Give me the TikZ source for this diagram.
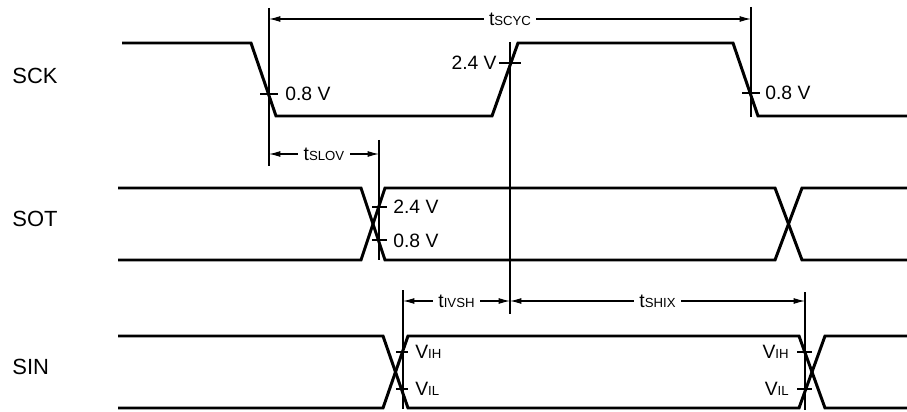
\documentclass[tikz,border=0pt]{standalone}
\usepackage{fontspec}
\setmainfont{Liberation Sans}
\usetikzlibrary{arrows.meta}
\newcommand{\tsub}[1]{{\fontsize{7.5}{8}\selectfont #1}}

\begin{document}
\begin{tikzpicture}[x=0.02cm,y=-0.02cm,
  wave/.style={line width=1.7pt,line join=miter},
  guide/.style={line width=0.6pt},
  dim/.style={line width=0.6pt,{Latex[length=6.5pt,width=3.4pt]}-{Latex[length=6.5pt,width=3.4pt]}},
  lbl/.style={inner sep=0pt,font=\fontsize{11}{12}\selectfont},
  tlbl/.style={fill=white,inner sep=3pt,font=\fontsize{11}{12}\selectfont},
  signame/.style={inner sep=0pt,anchor=west,font=\fontsize{12.5}{14}\selectfont}]
\useasboundingbox (0,0) rectangle (907,412);

% signal names
\node[signame] at (12,76) (sck){SCK};
\node[signame] at (12,219) (sot){SOT};
\node[signame] at (12,367) (sin){SIN};

% waveforms
\draw[wave] (122,43) -- (251,43) -- (276,116) -- (492,116) -- (518,43) -- (733,43) -- (758,116) -- (907,116);
\draw[wave] (118,188) -- (361,188) -- (385,260) -- (775,260) -- (802,188) -- (907,188);
\draw[wave] (118,260) -- (361,260) -- (385,188) -- (775,188) -- (802,260) -- (907,260);
\draw[wave] (118,336) -- (383,336) -- (408,408) -- (799,408) -- (825,336) -- (907,336);
\draw[wave] (118,408) -- (383,408) -- (408,336) -- (799,336) -- (825,408) -- (907,408);

% guide lines
\draw[guide] (269,8) -- (269,166);
\draw[guide] (510,42) -- (510,314);
\draw[guide] (751,7) -- (751,117);
\draw[guide] (379,140) -- (379,260);
\draw[guide] (403,290) -- (403,409);
\draw[guide] (805,292) -- (805,410);

% level ticks
\draw[guide] (260,94) -- (278,94);
\draw[guide] (499,63) -- (521,63);
\draw[guide] (742,93) -- (760,93);
\draw[guide] (372,207) -- (387,207);
\draw[guide] (372,240) -- (387,240);
\draw[guide] (396,352) -- (408,352);
\draw[guide] (396,389) -- (408,389);
\draw[guide] (797,352) -- (812,352);
\draw[guide] (797,389) -- (812,389);

% level labels
\node[lbl,anchor=west] at (285,94) (sckl1){0.8 V};
\node[lbl,anchor=east] at (497,63) (sckh){2.4 V};
\node[lbl,anchor=west] at (765,93) (sckl2){0.8 V};
\node[lbl,anchor=west] at (393,207) (soth){2.4 V};
\node[lbl,anchor=west] at (393,241) (sotl){0.8 V};
\node[lbl,anchor=west] at (415,352) (sinh1){V\tsub{IH}};
\node[lbl,anchor=west] at (415,389) (sinl1){V\tsub{IL}};
\node[lbl,anchor=east] at (789,352) (sinh2){V\tsub{IH}};
\node[lbl,anchor=east] at (789,389) (sinl2){V\tsub{IL}};

% timing arrows
\coordinate (cycL) at (269,19);
\coordinate (cycR) at (751,19);
\coordinate (lovL) at (269,154);
\coordinate (lovR) at (379,154);
\coordinate (ivsL) at (403,301);
\coordinate (shM) at (510,301);
\coordinate (hixR) at (805,301);
\draw[dim] (cycL) -- node[tlbl] (tscyc){t\tsub{SCYC}} (cycR);
\draw[dim] (lovL) -- node[tlbl] (tslov){t\tsub{SLOV}} (lovR);
\draw[dim] (ivsL) -- node[tlbl] (tivsh){t\tsub{IVSH}} (shM);
\draw[dim] (shM) -- node[tlbl] (tshix){t\tsub{SHIX}} (hixR);

\end{tikzpicture}
\end{document}
